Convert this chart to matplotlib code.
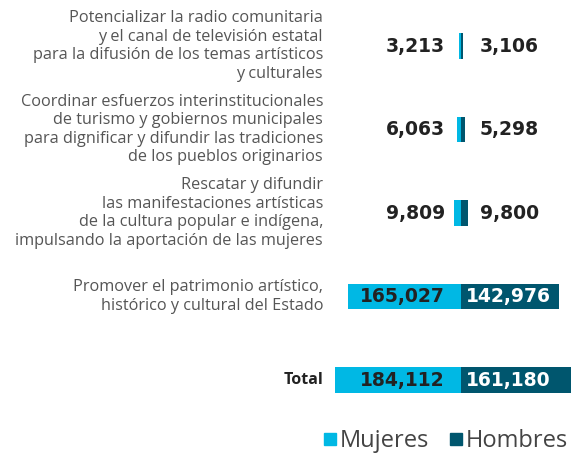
import matplotlib
matplotlib.use("Agg")
import matplotlib.pyplot as plt
from matplotlib.lines import Line2D
from matplotlib.transforms import blended_transform_factory

# --- data ---
categories = [
    "Potencializar la radio comunitaria\ny el canal de televisión estatal\npara la difusión de los temas artísticos\ny culturales",
    "Coordinar esfuerzos interinstitucionales\nde turismo y gobiernos municipales\npara dignificar y difundir las tradiciones\nde los pueblos originarios",
    "Rescatar y difundir\nlas manifestaciones artísticas\nde la cultura popular e indígena,\nimpulsando la aportación de las mujeres",
    "Promover el patrimonio artístico,\nhistórico y cultural del Estado",
    "Total",
]
mujeres = [3213, 6063, 9809, 165027, 184112]
hombres = [3106, 5298, 9800, 142976, 161180]
series_names = ["Mujeres", "Hombres"]

C_MUJ = "#00b8e4"
C_HOM = "#00566e"
TXT = "#222222"
LBL = "#555555"
FONT = "Open Sans"
NUMFONT = "DejaVu Sans"

plt.rcParams["font.family"] = [FONT, "DejaVu Sans"]

fig = plt.figure(figsize=(5.71, 4.55), dpi=100)
ax = fig.add_axes([0, 0, 1, 1])
ax.axis("off")

ys = list(range(len(categories)))
bar_h = 0.31
ax.barh(ys, [-v for v in mujeres], height=bar_h, color=C_MUJ, left=0)
ax.barh(ys, hombres, height=bar_h, color=C_HOM, left=0)

ax.set_xlim(-675000, 161180)
ax.set_ylim(4.898, -0.551)

# value labels
for y, m, h in zip(ys, mujeres, hombres):
    ax.annotate(f"{m:,}", (0, y), xytext=(-16, 0), textcoords="offset pixels",
                ha="right", va="center", fontsize=13.5, fontweight="bold",
                family=NUMFONT, color=TXT)
    big = h > 50000
    ax.annotate(f"{h:,}", (0, y), xytext=(5 if big else 19, 0), textcoords="offset pixels",
                ha="left", va="center", fontsize=13.5, fontweight="bold",
                family=NUMFONT, color="white" if big else TXT)

# category labels
tr = blended_transform_factory(ax.transAxes, ax.transData)
for y, cat in zip(ys, categories):
    total = cat == "Total"
    ax.text(323 / 571, y, cat, transform=tr, ha="right", va="center",
            fontsize=11.5 if total else 11.7, fontweight="bold" if total else "normal",
            color=TXT if total else LBL, linespacing=1.2)

handles = [Line2D([], [], marker="s", linestyle="none", markersize=9, color=c)
           for c in (C_MUJ, C_HOM)]
ax.legend(handles, series_names, loc="lower right", bbox_to_anchor=(568 / 571, 0.004),
          borderaxespad=0, borderpad=0,
          frameon=False, fontsize=17, ncol=2, handlelength=0.5, handletextpad=0.15,
          columnspacing=0.9, labelcolor="#444444")

fig.savefig("out.png", dpi=100)
